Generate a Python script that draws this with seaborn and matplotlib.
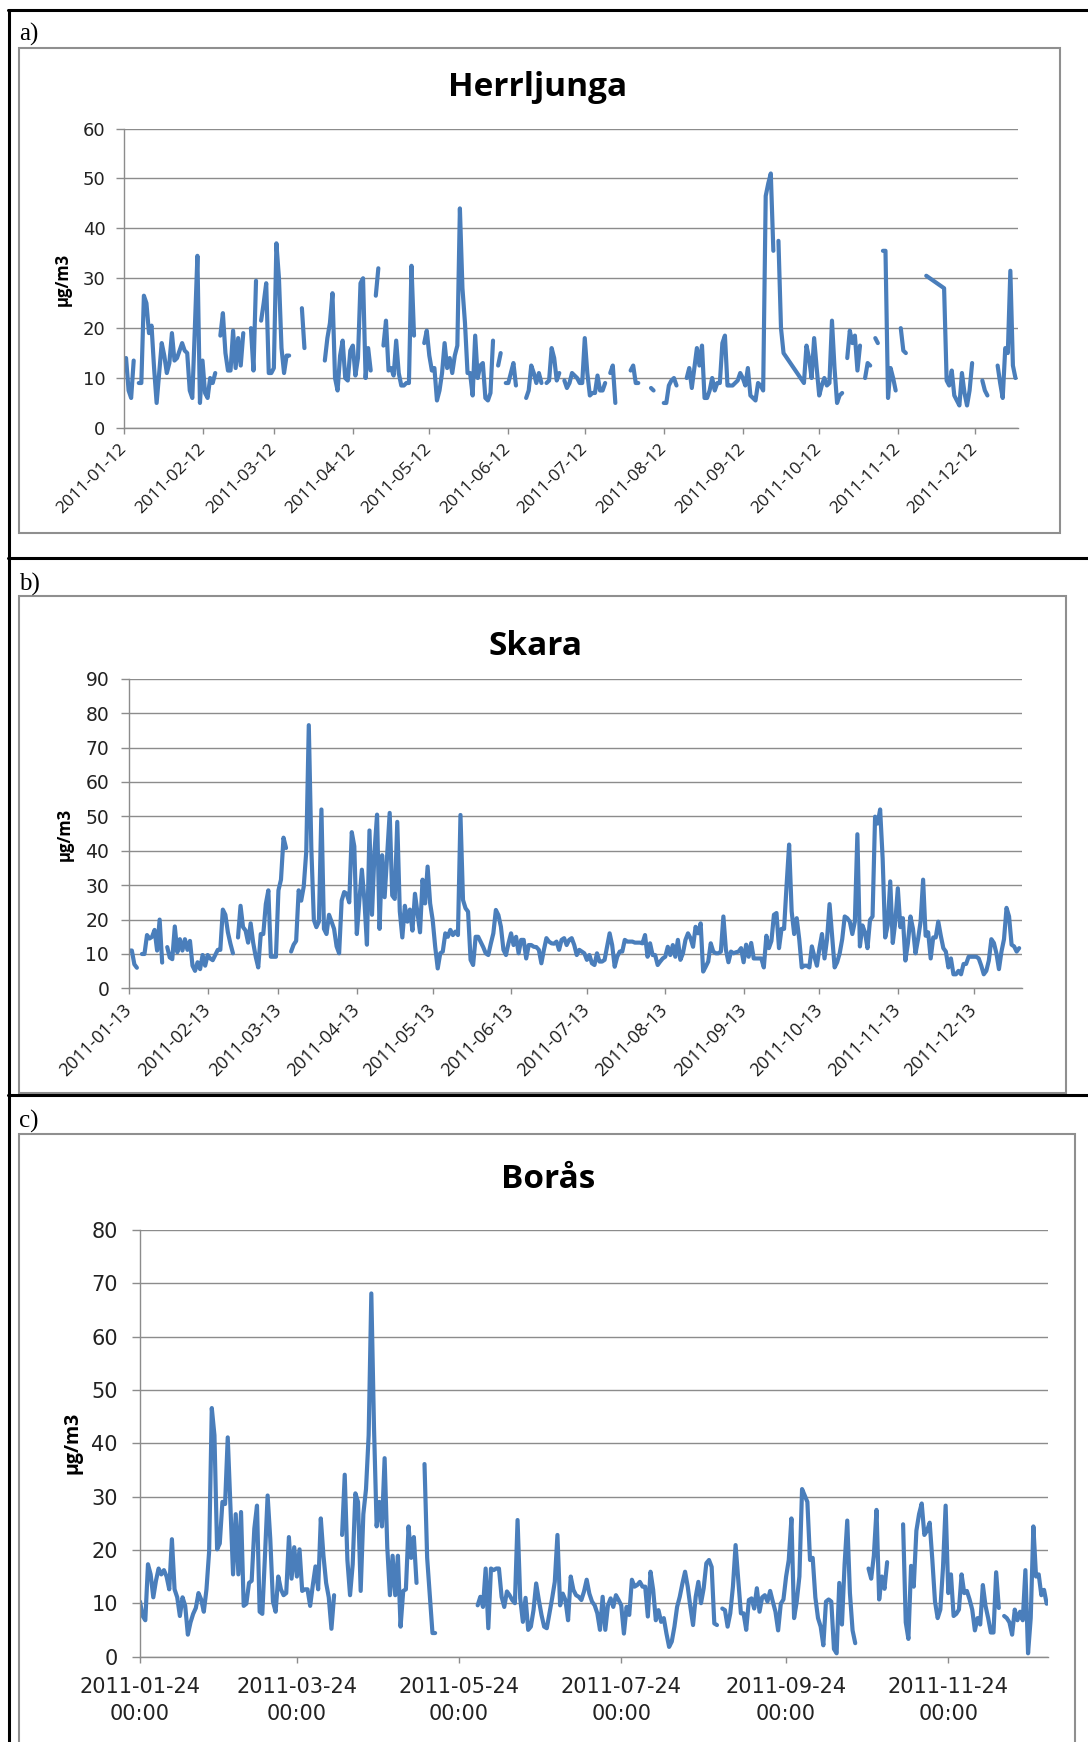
import numpy as np
import pandas as pd
import matplotlib
matplotlib.use("Agg")
import matplotlib.pyplot as plt
import matplotlib.dates as mdates
from matplotlib.lines import Line2D
from matplotlib.patches import Rectangle
import seaborn as sns

# ------------------------------------------------------------
# daily PM10 (ug/m3), one value per day from the start date.
# None = blank cell -> the line breaks.
# *_no_rows = days with no row at all -> line runs straight across.
# ------------------------------------------------------------
herrljunga_start = "2011-01-12"
herrljunga = [
    13.5, 14, 7.5, 6, 13.5, None, 9, 9, 26.5, 25,
    19, 20.5, 12, 5, 11, 17, 14.5, 11, 13, 19,
    13.5, 14, 15.5, 17, 15.5, 15, 7.5, 6, 20, 34.5,
    5, 13.5, 7, 6, 10, 9, 11, None, 18.5, 23,
    15, 11.5, 11.5, 19.5, 12, 18, 12.5, 19, None, None,
    20, 11.5, 29.5, None, 21.5, 25, 29, 11, 11, 12,
    37, 30, 16, 11, 14.5, 14.5, None, None, None, None,
    24, 16, None, None, None, None, None, None, None, 13.5,
    18, 21, 27, 10, 7.5, 14.5, 17.5, 10, 9.5, 15.5,
    16.5, 10.5, 14, 29, 30, 10, 16, 11.5, None, 26.5,
    32, None, 16.5, 21.5, 11.5, 12, 10.5, 17.5, 11, 8.5,
    8.5, 9, 9, 32.5, 18.5, None, None, None, 17, 19.5,
    14.5, 11.5, 12, 5.5, 7.5, 11, 17, 12, 14, 11,
    14.5, 16.5, 44, 28, 21, 11, 11, 6.5, 18.5, 10,
    12.5, 13, 6, 5.5, 7, 17.5, None, 12.5, 15, None,
    9, 9, 11, 13, 8.5, None, None, None, 6, 7.5,
    12.5, 11, 9, 11, 9, None, 9, 9.5, 16, 14,
    9.5, 11, None, 9.5, 8, 9, 11, 10.5, 10, 9,
    9, 18, 11, 6.5, 7, 7, 10.5, 7.5, 7.5, 9,
    None, 11, 12.5, 5, None, None, None, None, None, 11.5,
    12.5, 9, 9, None, None, None, None, 8, 7.5, None,
    None, None, 5, 5, 8.5, 9.5, 10, 8.5, None, None,
    None, 10, 12, 8, 12, 16, 12.5, 16.5, 6, 6,
    7.5, 10, 7.5, 9, 9, 17, 18.5, 8.5, 8.5, 8.5,
    9, 9.5, 11, 10, 8.5, 12, 6.5, 6, 5.5, 9,
    8.5, 7.5, 46.5, 49, 51, 35.5, None, 37.5, 20, 15,
    None, None, None, None, None, None, None, 9, 16.5, 14,
    10, 18, 12, 6.5, 8.5, 10, 8.5, 9, 21.5, 12,
    5, 6.5, 7, None, 14, 19.5, 17, 18.5, 11.5, 16.5,
    None, 10, 13, 12.5, None, 18, 17, None, 35.5, 35.5,
    6, 12, 10, 7.5, None, 20, 15.5, 15, None, None,
    None, None, None, None, None, 30.5, None, None, None, None,
    None, None, 28, 9.5, 8.5, 11.5, 6.5, 5.5, 4.5, 11,
    7, 4.5, 7.5, 13, None, None, None, 9.5, 7.5, 6.5,
    None, None, None, 12.5, 9, 6, 16, 15, 31.5, 12.5, 10,
]
herrljunga_no_rows = [(260, 266), (316, 321)]

skara_start = "2011-01-13"
skara = [
    11, 11, 7, 6, None, 10, 10, 15.5, 14.5, 15,
    17, 11, 20, 7.5, None, 12, 9, 8.5, 18, 10.5,
    14.3, 11, 14.3, 11.2, 13.8, 6.6, 5.1, 7.6, 5.6, 9.7,
    6.6, 9.7, 8.7, 8.2, 9.7, 11.2, 11.2, 22.9, 21.4, 16.3,
    13, 10.2, None, 14.8, 24, 17.8, 16.8, 13.3, 18.9, 13.3,
    9.2, 6.1, 15.8, 15.8, 24.5, 28.5, 9.2, 9.2, 9.2, 28.5,
    31.6, 43.8, 40.8, None, 10.7, 12.7, 13.8, 28.5, 25.5, 29.6,
    39.8, 76.5, 40.8, 19.9, 17.8, 19.4, 52, 17.3, 15.8, 21.4,
    19.4, 17.3, 12.2, 10.2, 25.5, 28, 27.5, 25, 45.4, 41.3,
    15.8, 25.5, 34.5, 25.5, 12.7, 45.9, 21.4, 39.8, 50.5, 17.3,
    38.7, 26.5, 38.7, 51, 27, 26, 48.4, 22.4, 14.8, 24,
    19.4, 22.9, 16.8, 27.5, 21.9, 16.3, 31.6, 24.7, 35.4, 24.7,
    19.9, 12.1, 5.8, 10.2, 10.7, 16, 15, 17, 15.5, 16.5,
    15.5, 50.4, 25.7, 23.3, 22.3, 8.3, 6.8, 15, 15, 13.5,
    12, 10.2, 9.7, 13, 16, 22.8, 21.3, 17.9, 11.2, 9.7,
    13.1, 16, 12.6, 15, 10.2, 14.1, 14.1, 8.7, 12.6, 12.6,
    12.1, 12, 11.2, 7.3, 11.2, 14.6, 13.6, 13.1, 13, 13.6,
    11.2, 14.1, 14.6, 12.6, 14.1, 14.6, 12.6, 9.7, 11.2, 10.7,
    10.2, 8.3, 9.7, 7.3, 6.8, 10.2, 7.8, 7.8, 8.3, 12.1,
    16, 12.6, 6.3, 9.2, 10.7, 10.7, 14.1, 13.6, 13.6, 13.6,
    13.3, 13.3, 13.3, 13.1, 15.5, 9.2, 13.1, 9.7, 9.7, 6.8,
    7.8, 8.7, 9.2, 12.1, 9.7, 12.6, 9.2, 14.1, 8.3, 10.2,
    14.1, 16, 14.6, 12.1, 17.9, 16, 18.9, 4.9, 6.3, 7.8,
    13.1, 10.7, 10.2, 10.2, 10.7, 20.9, 11.2, 7.6, 10.7, 10.2,
    10.5, 10.7, 11.7, 7.6, 12.7, 9.2, 13.2, 8.7, 8.7, 8.7,
    8.7, 6.1, 15.3, 11.7, 13.8, 21.4, 21.9, 11.7, 17.3, 17.3,
    30, 41.8, 22.4, 15.8, 20.4, 14.3, 6.1, 6.6, 6.6, 6.1,
    12.2, 9.2, 6.6, 11.7, 15.8, 8.7, 14.3, 24.5, 15.3, 6.1,
    7.6, 10.2, 14.3, 20.9, 20.4, 19.4, 15.8, 19.4, 44.8, 12.2,
    18.3, 16.3, 11.7, 19.9, 20.9, 49.9, 47.9, 52, 37.7, 14.8,
    18.3, 31.1, 13.2, 19.4, 29.1, 17.8, 20.4, 8.1, 13.2, 20.9,
    17.3, 10.2, 14.3, 19.4, 31.6, 15.3, 16.3, 8.7, 14.8, 14.8,
    19.4, 15.3, 11.7, 10.7, 6.1, 8.7, 4.1, 4.1, 5.1, 4.1,
    7.1, 7.1, 9.2, 9.2, 9.2, 9.2, 8.7, 6.6, 4.1, 5.1,
    8.1, 14.3, 13.2, 10.2, 5.6, 10.7, 14.3, 23.4, 20.9, 12.7, 12.2, 10.7, 11.7,
]
skara_no_rows = []

boras_start = "2011-01-24"
boras = [
    10.3, 7.6, 6.8, 17.3, 15.4, 11.1, 14.2, 16.5, 15.4, 16.2,
    15, 12.6, 22, 12.6, 11.1, 7.6, 11.1, 9.5, 4.1, 6.4,
    8, 9.1, 11.9, 10.7, 8.4, 12.6, 19.7, 46.6, 41.5, 20.1,
    21.2, 29, 28.6, 41.1, 28.3, 15.4, 26.7, 15.4, 27.1, 9.5,
    9.9, 13.8, 14.2, 24, 28.3, 8.4, 8, 18.9, 30.2, 22,
    10.3, 8.4, 15, 12.6, 11.5, 11.9, 22.4, 14.6, 20.5, 15,
    20.1, 12.3, 12.6, 12.6, 9.5, 13.4, 16.9, 12.6, 25.9, 18.9,
    13.8, 11.1, 5.2, 11.5, None, None, 22.8, 34.1, 18.1, 11.5,
    17.3, 30.6, 29, 12.3, 26.7, 31.4, 41.5, 68.1, 43.1, 24.4,
    29, 24.4, 37.2, 20.5, 11.5, 18.9, 11.5, 18.9, 5.6, 12.3,
    12.6, 24.4, 18.5, 22.4, 13.8, None, None, 36.1, 18.5, None,
    4.4, 4.4, None, None, None, None, None, None, None, None,
    None, None, None, None, None, None, None, 9.6, 11.2, 9.3,
    16.5, 5.3, 16.5, 16.2, 16.5, 16.5, 11.2, 9.3, 12.2, 11.5,
    10.6, 10, 25.6, 10.9, 6.5, 11, 5, 5.6, 8.7, 13.7,
    10.6, 7.8, 5.6, 5.3, 8.1, 10.9, 14, 22.8, 9.6, 11.8,
    10.6, 6.8, 15, 12.5, 11.5, 11.2, 10.6, 12.2, 14.4, 11.8,
    10.3, 9.6, 8.1, 5, 11.2, 5, 9.6, 10.9, 9.3, 11.5,
    10.6, 9.6, 4.3, 9.3, 7.8, 14.4, 13.1, 13.4, 14, 13.1,
    13.1, 7.5, 15.9, 12.5, 6.8, 8.7, 6.5, 7.2, 4.3, 1.8,
    2.8, 5.6, 9.3, 11.2, 13.7, 15.9, 13.1, 9.3, 5.9, 11.2,
    14, 10, 12.8, 17.5, 18.1, 16.8, 6.2, 5.9, None, 9,
    8.7, 5.6, 8.1, 13.1, 20.9, 14.4, 8.1, 8.1, 5, 10.6,
    10.9, 9, 12.8, 8.4, 11.1, 11.5, 10.3, 12.3, 10.3, 8.4,
    4.9, 9.9, 10.7, 15, 18.1, 25.9, 7.2, 10.3, 15, 31.4,
    30.2, 29, 18.1, 18.5, 11.1, 7.2, 5.6, 2.1, 10.3, 10.7,
    10.3, 1.4, 0.6, 13.8, 6, 17.3, 25.5, 11.9, 4.9, 2.5,
    None, None, None, None, 16.5, 14.6, 18.9, 27.5, 10.7, 15,
    12.7, 17.7, None, None, None, None, None, 24.8, 6.4, 3.3,
    17, 13.1, 23.6, 26.7, 28.7, 22.8, 23.6, 25.1, 18.1, 10.3,
    7.2, 8.8, 16.6, 28.3, 11.9, 15.4, 7.6, 8, 8.8, 15.4,
    11.9, 12.3, 10.7, 8.8, 4.9, 7.2, 6, 13.4, 9.5, 7.2,
    4.5, 4.5, 15.8, 9.1, None, 7.6, 7.2, 6.4, 4.1, 8.8,
    6.8, 8.4, 6.8, 16.2, 0.6, 7.2, 24.4, 15, 15.4, 11.5, 12.5, 9.9,
]
boras_no_rows = [(109, 109)]

herrljunga_ticks = ["2011-01-12", "2011-02-12", "2011-03-12", "2011-04-12",
                    "2011-05-12", "2011-06-12", "2011-07-12", "2011-08-12",
                    "2011-09-12", "2011-10-12", "2011-11-12", "2011-12-12"]
skara_ticks = ["2011-01-13", "2011-02-13", "2011-03-13", "2011-04-13",
               "2011-05-13", "2011-06-13", "2011-07-13", "2011-08-13",
               "2011-09-13", "2011-10-13", "2011-11-13", "2011-12-13"]
boras_ticks = ["2011-01-24", "2011-03-24", "2011-05-24",
               "2011-07-24", "2011-09-24", "2011-11-24"]

# ------------------------------------------------------------
W, H = 1088, 1742
LINE = "#4A7EBB"
GRID = "#8C8C8C"

sns.set_style("white")
plt.rcParams["font.family"] = ["Open Sans", "DejaVu Sans"]


def frac(x0, y0, x1, y1):
    # pixel box (top-left origin) -> figure fraction rect
    return [x0 / W, 1 - y1 / H, (x1 - x0) / W, (y1 - y0) / H]


def series_frame(start, vals, no_rows):
    df = pd.DataFrame({"date": pd.date_range(start, periods=len(vals), freq="D"),
                       "value": pd.Series(vals, dtype="float")})
    for lo, hi in no_rows:
        df = df[~df.index.to_series().between(lo, hi)]
    df["seg"] = df["value"].isna().cumsum()
    return df.dropna(subset=["value"])


def draw_panel(fig, box, start, vals, no_rows, xdays, ymax, ticks, labels,
               ytick_fs, ytick_pad, xtick_fs, rot=None, xpad=9):
    ax = fig.add_axes(frac(*box))
    df = series_frame(start, vals, no_rows)
    sns.lineplot(data=df, x="date", y="value", units="seg", estimator=None,
                 color=LINE, linewidth=3.0, solid_joinstyle="round",
                 solid_capstyle="round", ax=ax)
    t0 = pd.Timestamp(start)
    ax.set_xlim(mdates.date2num(t0), mdates.date2num(t0 + pd.Timedelta(days=xdays)))
    ax.set_ylim(0, ymax)
    ax.set_yticks(range(0, ymax + 1, 10))
    ax.set_xlabel("")
    ax.set_ylabel("")
    ax.grid(axis="y", color=GRID, lw=1.0)
    ax.grid(axis="x", visible=False)
    for s in ["top", "right"]:
        ax.spines[s].set_visible(False)
    for s in ["left", "bottom"]:
        ax.spines[s].set_color(GRID)
        ax.spines[s].set_linewidth(1.0)
    ax.tick_params(axis="y", length=5.5, width=1, color=GRID, pad=ytick_pad,
                   labelsize=ytick_fs, labelcolor="#222222", left=True)
    for lab in ax.get_yticklabels():
        lab.set_fontfamily("DejaVu Sans")
    ax.set_xticks(mdates.date2num(pd.to_datetime(ticks)))
    ax.tick_params(axis="x", length=4.5, width=1, color=GRID, pad=xpad,
                   bottom=True, direction="out")
    if rot is not None:
        ax.set_xticklabels(labels, rotation=rot, ha="right", va="center",
                           rotation_mode="anchor", fontsize=xtick_fs,
                           color="#1a1a1a")
    else:
        ax.set_xticklabels(labels, fontsize=xtick_fs, color="#222222",
                           family="DejaVu Sans", linespacing=1.45)
    return ax


fig = plt.figure(figsize=(W / 100, H / 100), dpi=100)

# outer table lines
def fig_line(x0, y0, x1, y1, **kw):
    fig.add_artist(Line2D([x0 / W, x1 / W], [1 - y0 / H, 1 - y1 / H],
                          transform=fig.transFigure, **kw))

for yy in [10.5, 557.5, 1095]:
    fig_line(8, yy, W + 5, yy, color="black", lw=2.2)
fig_line(9, 10, 9, H + 5, color="black", lw=2.2)

# chart area frames
for (x0, y0, x1, y1) in [(19, 48, 1060, 533), (19, 596, 1066, 1093), (19, 1134, 1075, 1800)]:
    fig.add_artist(Rectangle((x0 / W, 1 - y1 / H), (x1 - x0) / W, (y1 - y0) / H,
                             fill=False, ec="#8F8F8F", lw=1.5, transform=fig.transFigure))

# panel a
draw_panel(fig, (123.5, 128.6, 1018, 427.9), herrljunga_start, herrljunga,
           herrljunga_no_rows, 351, 60, herrljunga_ticks, herrljunga_ticks,
           ytick_fs=13, ytick_pad=7.5, xtick_fs=12.5, rot=45, xpad=9)
# panel b
draw_panel(fig, (129.3, 678.7, 1021.7, 988.4), skara_start, skara,
           skara_no_rows, 353, 90, skara_ticks, skara_ticks,
           ytick_fs=13.5, ytick_pad=9, xtick_fs=13, rot=45, xpad=9)
# panel c
draw_panel(fig, (140, 1230, 1048, 1656.5), boras_start, boras,
           boras_no_rows, 341.5, 80, boras_ticks,
           [t + "\n00:00" for t in boras_ticks],
           ytick_fs=15, ytick_pad=10.5, xtick_fs=15, rot=None, xpad=10)

# titles, unit labels, panel letters
for txt, x, y in [("Herrljunga", 538, 96), ("Skara", 536, 655), ("Borås", 548, 1188)]:
    fig.text(x / W, 1 - y / H, txt, ha="center", va="baseline",
             fontsize=24, fontweight="bold", color="black")
for x, y, fs in [(63, 279, 12), (65, 834, 12), (72, 1443, 14)]:
    fig.text(x / W, 1 - y / H, "µg/m3", rotation=90, ha="center", va="center",
             fontsize=fs, fontweight="bold", color="black")
for txt, y in [("a)", 41), ("b)", 591), ("c)", 1128)]:
    fig.text(19 / W, 1 - y / H, txt, ha="left", va="baseline", fontsize=18,
             family="Liberation Serif", color="black")

fig.savefig("out.png", dpi=100)
